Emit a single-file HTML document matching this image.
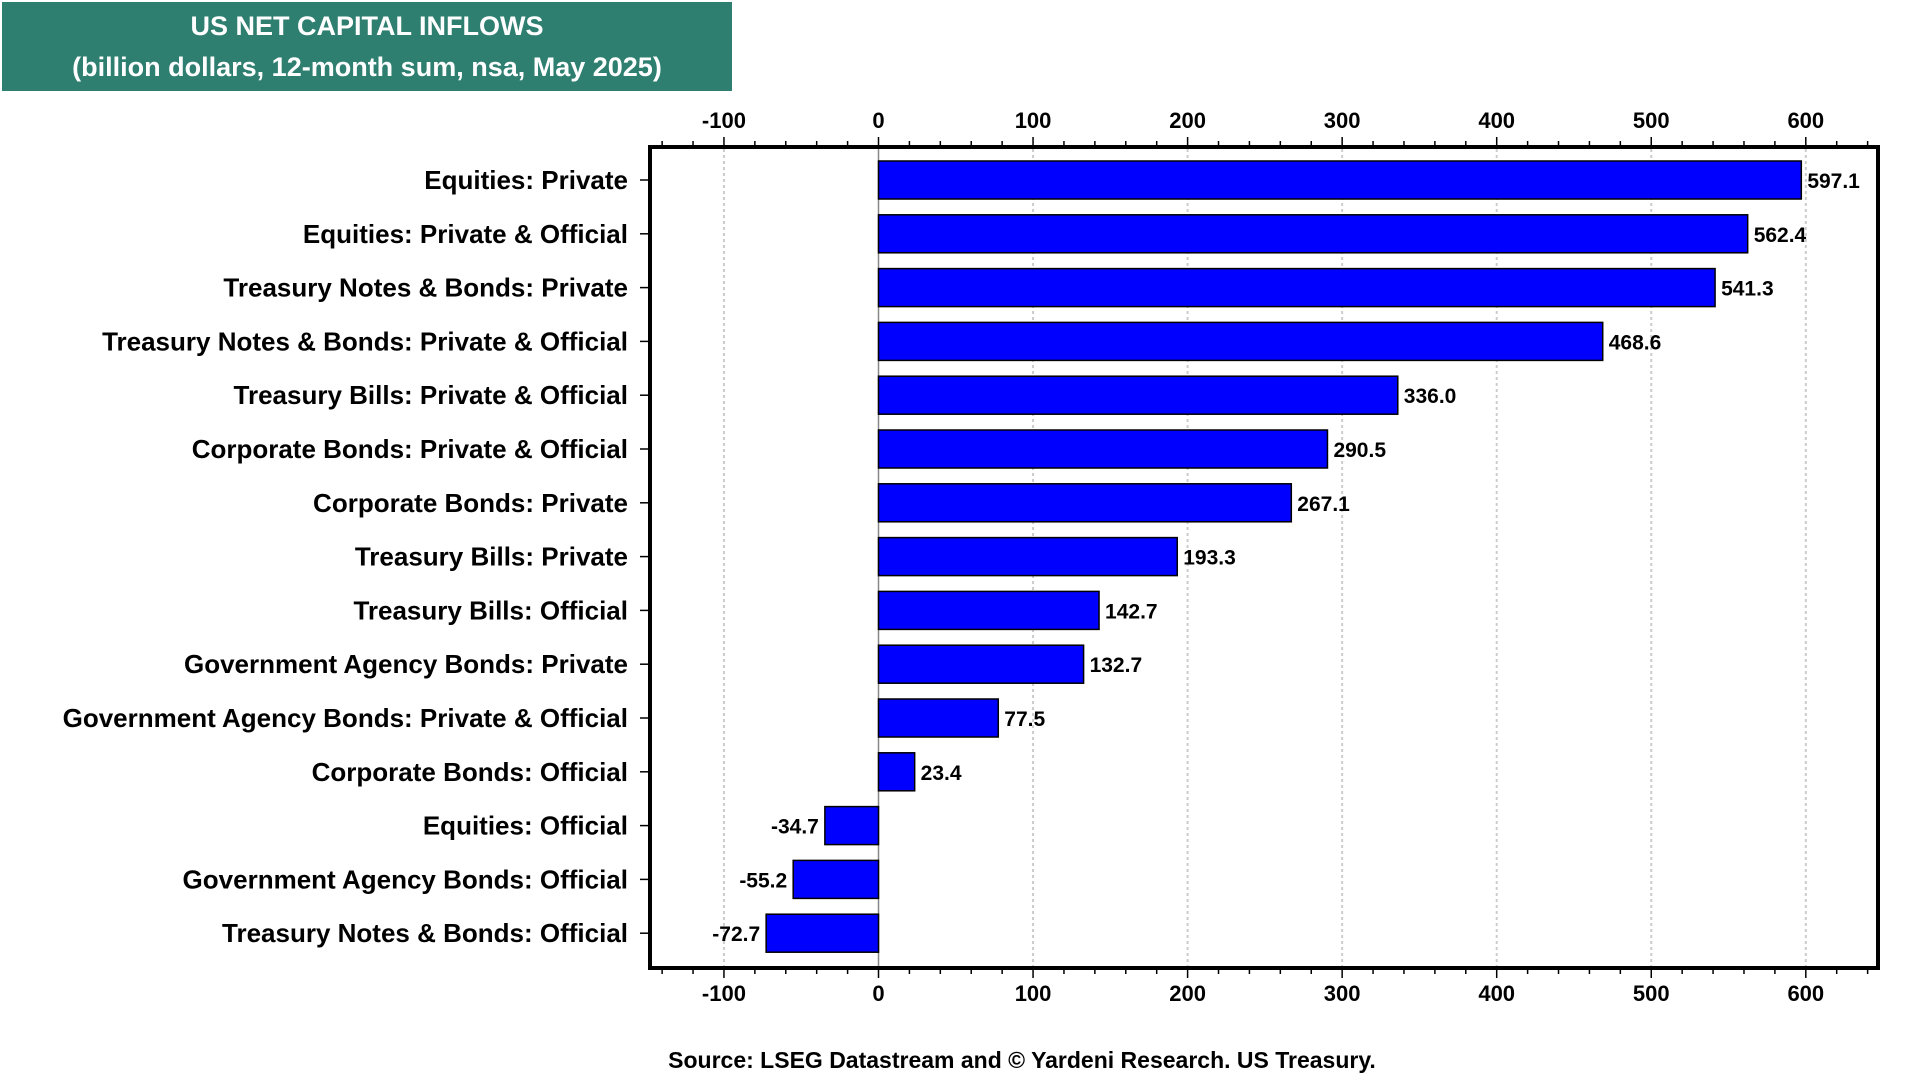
<!DOCTYPE html>
<html><head><meta charset="utf-8"><style>
html,body{margin:0;padding:0;background:#fff;}
svg{display:block;font-family:"Liberation Sans",Arial,sans-serif;font-weight:bold;}
</style></head><body>
<svg id="chart" width="1920" height="1080" viewBox="0 0 1920 1080">
<rect x="2" y="2" width="730" height="89" fill="#2e7f70"/>
<text x="367" y="35" fill="#fff" font-size="27" text-anchor="middle">US NET CAPITAL INFLOWS</text>
<text x="367" y="76" fill="#fff" font-size="27" text-anchor="middle">(billion dollars, 12-month sum, nsa, May 2025)</text>
<g id="grid"></g><g id="bars"></g><g id="axes"></g>
<rect x="650" y="147" width="1228" height="821" fill="none" stroke="#000" stroke-width="4"/>
<text x="1022" y="1068" font-size="23" text-anchor="middle">Source: LSEG Datastream and © Yardeni Research. US Treasury.</text>
</svg>
<script>
const categories = ["Equities: Private","Equities: Private & Official","Treasury Notes & Bonds: Private","Treasury Notes & Bonds: Private & Official","Treasury Bills: Private & Official","Corporate Bonds: Private & Official","Corporate Bonds: Private","Treasury Bills: Private","Treasury Bills: Official","Government Agency Bonds: Private","Government Agency Bonds: Private & Official","Corporate Bonds: Official","Equities: Official","Government Agency Bonds: Official","Treasury Notes & Bonds: Official"];
const values = [597.1,562.4,541.3,468.6,336.0,290.5,267.1,193.3,142.7,132.7,77.5,23.4,-34.7,-55.2,-72.7];
const tickValues = [-100,0,100,200,300,400,500,600];
const tickLabels = ["-100","0","100","200","300","400","500","600"];

const NS="http://www.w3.org/2000/svg";
function x(v){return 878.5+1.5455*v;}
function y(i){return 180+i*53.8;}
function mk(tag,attrs,parent,txt){const e=document.createElementNS(NS,tag);for(const k in attrs)e.setAttribute(k,attrs[k]);if(txt!==undefined)e.textContent=txt;parent.appendChild(e);return e;}
const grid=document.getElementById('grid'),bars=document.getElementById('bars'),axes=document.getElementById('axes');
tickValues.forEach((t,i)=>{
  const g=mk('line',{x1:x(t),x2:x(t),y1:149,y2:966,stroke:t===0?'#888':'#ccc','stroke-width':t===0?1.5:2,'stroke-dasharray':t===0?'':'3,3'},grid);
  
  
  const tl=mk('text',{x:x(t),y:128,'font-size':22,'text-anchor':'middle'},axes,tickLabels[i]);
  
  
  const bl=mk('text',{x:x(t),y:1001,'font-size':22,'text-anchor':'middle'},axes,tickLabels[i]);
  
  
});
for(let v=-140;v<=640;v+=20){
  if(x(v)<652||x(v)>1876)continue;
  const major=(v%100===0);
  const t1=mk('line',{x1:x(v),x2:x(v),y1:major?137:141,y2:147,stroke:'#000','stroke-width':1.5},axes);
  
  
  const t2=mk('line',{x1:x(v),x2:x(v),y1:968,y2:major?978:974,stroke:'#000','stroke-width':1.5},axes);
  
  
}
categories.forEach((c,i)=>{
  const v=values[i],cy=y(i),x0=x(Math.min(0,v)),w=Math.abs(x(v)-x(0));
  const r=mk('rect',{x:x0,y:cy-19,width:w,height:38,fill:'#0000ff',stroke:'#000','stroke-width':1.5},bars);
  
  
  const lbl=mk('text',{x:v>=0?x(v)+6:x(v)-6,y:cy+8,'font-size':21,'text-anchor':v>=0?'start':'end'},bars,v.toFixed(1));
  
  
  const cl=mk('text',{x:628,y:cy+9,'font-size':26,'text-anchor':'end'},axes,c);
  
  
  const tk=mk('line',{x1:640,x2:650,y1:cy,y2:cy,stroke:'#000','stroke-width':1.5},axes);
  
  
});
</script>
</body></html>
